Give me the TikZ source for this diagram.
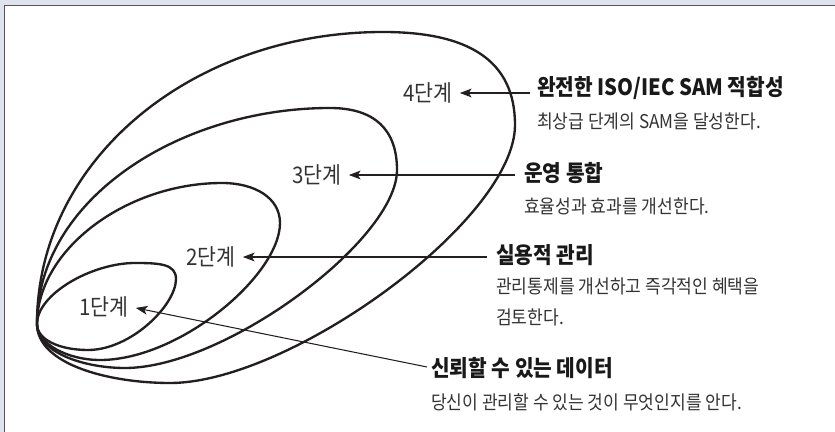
\documentclass[tikz,border=0pt]{standalone}
\usepackage{fontspec}
\newfontfamily\kr[FakeStretch=0.9]{Noto Sans CJK KR}
\usetikzlibrary{arrows.meta}
\definecolor{bgl}{HTML}{DFE2EF}
\definecolor{frm}{HTML}{555555}
\definecolor{ink}{HTML}{231F20}
\definecolor{txt}{HTML}{333333}
\begin{document}
\begin{tikzpicture}[x=0.03cm,y=-0.03cm,
  ring/.style={draw=ink, line width=2pt},
  stagelbl/.style={font=\kr\fontsize{19.5pt}{22pt}\selectfont, text=txt, inner sep=2pt},
  ttl/.style={font=\kr\bfseries\fontsize{19.2pt}{22pt}\selectfont, text=black!90, anchor=west, inner sep=0pt},
  dsc/.style={font=\kr\fontsize{16.2pt}{26.5pt}\selectfont, text=txt, anchor=west, inner sep=0pt, align=left},
  arr/.style={draw=ink, line width=0.9pt, -{Stealth[length=10pt,width=7.5pt,inset=2.5pt]}, shorten >=4pt}]
\useasboundingbox (0,0) rectangle (835,432);
\fill[bgl] (0,0) rectangle (835,432);
\fill[white] (4.5,5.5) rectangle (835,432);
\draw[frm, line width=1.2pt] (4.5,432) -- (4.5,5.5) -- (835,5.5);

% nested rings, all touching at the left point
\coordinate (P) at (37,324);
\draw[ring] (P) .. controls +(0,-30) and +(-43,0) .. (135,263)
  .. controls +(25,0) and +(0,-15) .. (176,279)
  .. controls +(0,26) and +(43,0) .. (88,350)
  .. controls +(-28,0) and +(0,16) .. (P) -- cycle;
\draw[ring] (P) .. controls +(0,-75) and +(-95,0) .. (222,183)
  .. controls +(33,0) and +(0,-25) .. (280,223)
  .. controls +(0,52) and +(80,0) .. (100,360)
  .. controls +(-32,0) and +(0,20) .. (P) -- cycle;
\draw[ring] (P) .. controls +(0,-125) and +(-150,0) .. (330,108)
  .. controls +(45,0) and +(0,-40) .. (397,170)
  .. controls +(0,70) and +(100,0) .. (125,368)
  .. controls +(-42,0) and +(0,28) .. (P) -- cycle;
\draw[ring] (P) .. controls +(0,-165) and +(-190,0) .. (383,32)
  .. controls +(85,0) and +(0,-65) .. (515,125)
  .. controls +(0,95) and +(120,0) .. (170,383)
  .. controls +(-62,0) and +(0,40) .. (P) -- cycle;

% stage labels
\node[stagelbl] (l4) at (428,93) {4단계};
\node[stagelbl] (l3) at (317,175) {3단계};
\node[stagelbl] (l2) at (211,257) {2단계};
\node[stagelbl] (l1) at (104,307) {1단계};

% titles and descriptions
\node[ttl] (t4) at (537,88) {완전한 ISO/IEC SAM 적합성};
\node[dsc] (d4) at (537,121) {최상급 단계의 SAM을 달성한다.};
\node[ttl] (t3) at (524,173) {운영 통합};
\node[dsc] (d3) at (524,206) {효율성과 효과를 개선한다.};
\node[ttl] (t2) at (496,255) {실용적 관리};
\node[dsc] (d2) at (496,302) {관리통제를 개선하고 즉각적인 혜택을\\검토한다.};
\node[ttl] (t1) at (431,368) {신뢰할 수 있는 데이터};
\node[dsc] (d1) at (431,402) {당신이 관리할 수 있는 것이 무엇인지를 안다.};

% connectors
\coordinate (s4) at (530,93);
\coordinate (s3) at (515,175);
\coordinate (s2) at (487,257);
\coordinate (s1) at (427,367);
\draw[arr] (s4) -- (l4.east);
\draw[arr] (s3) -- (l3.east);
\draw[arr] (s2) -- (l2.east);
\draw[arr] (s1) -- (l1.east);
\end{tikzpicture}
\end{document}
